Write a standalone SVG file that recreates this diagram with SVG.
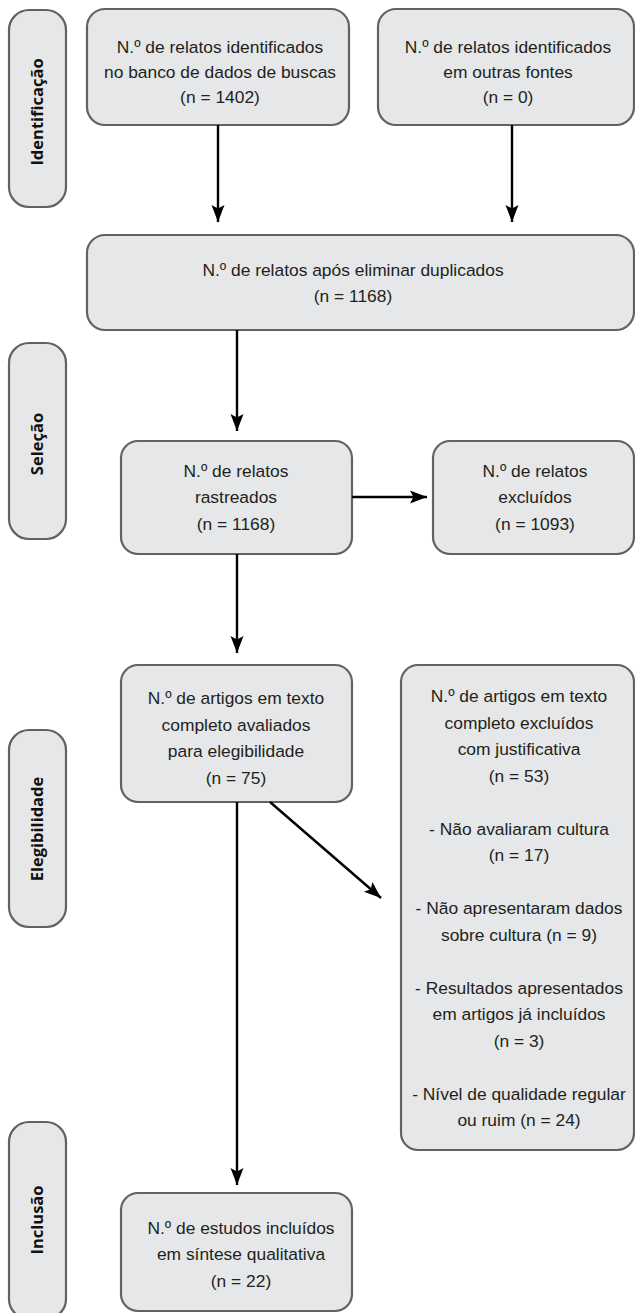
<svg xmlns="http://www.w3.org/2000/svg" width="635" height="1313" viewBox="0 0 635 1313">
<style>
.box{fill:#e6e7e8;stroke:#626262;stroke-width:2.2}
.t{font-family:"Liberation Sans",Arial,sans-serif;font-size:17.4px;fill:#231f20;text-anchor:middle}
.lbl{font-family:"Open Sans","DejaVu Sans",sans-serif;font-weight:700;font-size:16.5px;fill:#111;text-anchor:middle}
.c{stroke:#000;stroke-width:2.4;fill:none;marker-end:url(#ah)}
</style>
<defs>
<marker id="ah" markerUnits="userSpaceOnUse" markerWidth="20" markerHeight="16" viewBox="0 -8 18 16" refX="17" refY="0" orient="auto">
<path d="M0,-6.5 L17,0 L0,6.5 L3.5,0 Z" fill="#000"/>
</marker>
</defs>
<g id="stage-identificacao">
<rect class="box" x="9" y="10" width="57" height="197" rx="20"/>
<text class="lbl" transform="translate(43,112) rotate(-90)">Identificação</text>
</g>
<g id="stage-selecao">
<rect class="box" x="9" y="343" width="57" height="196" rx="20"/>
<text class="lbl" transform="translate(43,444) rotate(-90)">Seleção</text>
</g>
<g id="stage-elegibilidade">
<rect class="box" x="9" y="730" width="57" height="197" rx="20"/>
<text class="lbl" transform="translate(43,829) rotate(-90)">Elegibilidade</text>
</g>
<g id="stage-inclusao">
<rect class="box" x="9" y="1122" width="57" height="197" rx="20"/>
<text class="lbl" transform="translate(43,1220) rotate(-90)">Inclusão</text>
</g>
<g id="n1">
<rect class="box" x="87" y="9" width="262" height="116" rx="18"/>
<text class="t" x="220" y="53">N.º de relatos identificados</text>
<text class="t" x="220" y="78">no banco de dados de buscas</text>
<text class="t" x="220" y="103">(n = 1402)</text>
</g>
<g id="n2">
<rect class="box" x="378" y="9" width="256" height="116" rx="18"/>
<text class="t" x="508" y="53">N.º de relatos identificados</text>
<text class="t" x="508" y="78">em outras fontes</text>
<text class="t" x="508" y="103">(n = 0)</text>
</g>
<g id="n3">
<rect class="box" x="87" y="235" width="547" height="95" rx="18"/>
<text class="t" x="353" y="276">N.º de relatos após eliminar duplicados</text>
<text class="t" x="353" y="302">(n = 1168)</text>
</g>
<g id="n4">
<rect class="box" x="121" y="441" width="231" height="113" rx="17"/>
<text class="t" x="236" y="477">N.º de relatos</text>
<text class="t" x="236" y="503">rastreados</text>
<text class="t" x="236" y="530">(n = 1168)</text>
</g>
<g id="n5">
<rect class="box" x="433" y="441" width="201" height="113" rx="17"/>
<text class="t" x="535" y="477">N.º de relatos</text>
<text class="t" x="535" y="503">excluídos</text>
<text class="t" x="535" y="530">(n = 1093)</text>
</g>
<g id="n6">
<rect class="box" x="121" y="665" width="231" height="137" rx="17"/>
<text class="t" x="236" y="704">N.º de artigos em texto</text>
<text class="t" x="236" y="730.5">completo avaliados</text>
<text class="t" x="236" y="757">para elegibilidade</text>
<text class="t" x="236" y="783.5">(n = 75)</text>
</g>
<g id="n7">
<rect class="box" x="401" y="665" width="233" height="485" rx="17"/>
<text class="t" x="519" y="702">N.º de artigos em texto</text>
<text class="t" x="519" y="728.5">completo excluídos</text>
<text class="t" x="519" y="755">com justificativa</text>
<text class="t" x="519" y="781.5">(n = 53)</text>
<text class="t" x="519" y="834.5">- Não avaliaram cultura</text>
<text class="t" x="519" y="861">(n = 17)</text>
<text class="t" x="519" y="914">- Não apresentaram dados</text>
<text class="t" x="519" y="940.5">sobre cultura (n = 9)</text>
<text class="t" x="519" y="993.5">- Resultados apresentados</text>
<text class="t" x="519" y="1020">em artigos já incluídos</text>
<text class="t" x="519" y="1046.5">(n = 3)</text>
<text class="t" x="519" y="1099.5">- Nível de qualidade regular</text>
<text class="t" x="519" y="1126">ou ruim (n = 24)</text>
</g>
<g id="n8">
<rect class="box" x="121" y="1193" width="231" height="118" rx="17"/>
<text class="t" x="241" y="1234">N.º de estudos incluídos</text>
<text class="t" x="241" y="1260">em síntese qualitativa</text>
<text class="t" x="241" y="1287">(n = 22)</text>
</g>
<g id="connectors">
<line class="c" x1="218" y1="125" x2="218" y2="222"/>
<line class="c" x1="512" y1="125" x2="512" y2="222"/>
<line class="c" x1="237" y1="330" x2="237" y2="431"/>
<line class="c" x1="352" y1="497" x2="427" y2="497"/>
<line class="c" x1="237" y1="554" x2="237" y2="653"/>
<line class="c" x1="270" y1="802" x2="381" y2="898"/>
<line class="c" x1="237" y1="802" x2="237" y2="1185"/>
</g>
</svg>
